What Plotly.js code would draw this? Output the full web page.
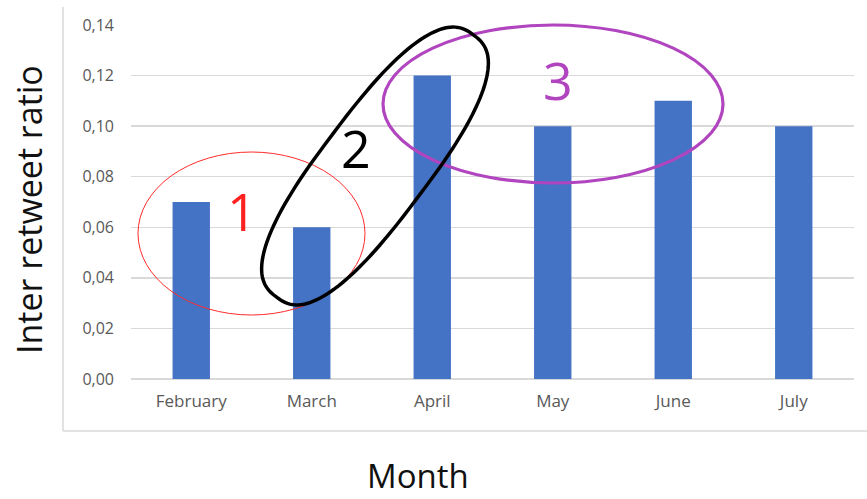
<!DOCTYPE html>
<html>
<head>
<meta charset="utf-8">
<script src="https://cdn.plot.ly/plotly-3.0.1.min.js"></script>
<style>html,body{margin:0;padding:0;background:#fff;}#chart{width:867px;height:499px;}</style>
</head>
<body>
<div id="chart"></div>
<script>
// Data
const months = ["February", "March", "April", "May", "June", "July"];
const ratios = [0.07, 0.06, 0.12, 0.10, 0.11, 0.10];
const yTicks = [0, 0.02, 0.04, 0.06, 0.08, 0.10, 0.12, 0.14];
const groupLabels = ["1", "2", "3"];
const xTitle = "Month";
const yTitle = "Inter retweet ratio";

// Layout geometry (pixels)
const W = 867, H = 499;
const L = 131, R = 854, T = 25, B = 379;
const pw = R - L, ph = B - T;
const px = x => (x - L) / pw;
const py = y => (B - y) / ph;

function ellipsePath(cx, cy, a, b, angDeg, n) {
  const th = angDeg * Math.PI / 180;
  const pts = [];
  const N = 160;
  for (let i = 0; i < N; i++) {
    const t = 2 * Math.PI * i / N;
    const c = Math.cos(t), s = Math.sin(t);
    const ex = a * Math.sign(c) * Math.pow(Math.abs(c), 2 / n);
    const ey = b * Math.sign(s) * Math.pow(Math.abs(s), 2 / n);
    const X = cx + ex * Math.cos(th) + ey * Math.sin(th);
    const Y = cy - ex * Math.sin(th) + ey * Math.cos(th);
    pts.push(px(X).toFixed(5) + "," + py(Y).toFixed(5));
  }
  return "M" + pts.join("L") + "Z";
}

const trace = {
  type: "bar",
  x: months,
  y: ratios,
  marker: {color: "#4472C4"},
  hoverinfo: "x+y"
};

const ann = (text, x, y, size, color, extra) => Object.assign({
  text: text, xref: "paper", yref: "paper", x: px(x), y: py(y),
  xanchor: "center", yanchor: "middle", showarrow: false,
  font: {size: size, color: color}
}, extra || {});

const layout = {
  width: W, height: H,
  margin: {l: L, r: W - R, t: T, b: H - B},
  paper_bgcolor: "#ffffff",
  plot_bgcolor: "#ffffff",
  separators: ",.",
  bargap: 0.69,
  showlegend: false,
  font: {family: "Open Sans, sans-serif", color: "#595959", size: 16},
  xaxis: {
    type: "category",
    showgrid: false,
    zeroline: false,
    showline: false,
    ticks: "",
    ticklabelstandoff: 10,
    tickfont: {size: 17, color: "#595959"},
    automargin: false
  },
  yaxis: {
    range: [0, 0.14],
    tickvals: yTicks,
    tickformat: ".2f",
    showgrid: true,
    gridcolor: "#d9d9d9",
    gridwidth: 1.3,
    zeroline: true,
    zerolinecolor: "#d9d9d9",
    zerolinewidth: 1.3,
    showline: false,
    ticks: "",
    ticklabelstandoff: 16,
    tickfont: {size: 16, color: "#595959"},
    automargin: false
  },
  shapes: [
    // chart frame (left and bottom edges)
    {type: "line", xref: "paper", yref: "paper", x0: px(63), x1: px(63), y0: py(7), y1: py(431),
     line: {color: "#d9d9d9", width: 1.5}},
    {type: "line", xref: "paper", yref: "paper", x0: px(63), x1: px(867), y0: py(431), y1: py(431),
     line: {color: "#d9d9d9", width: 1.5}},
    // red ellipse (group 1)
    {type: "circle", xref: "paper", yref: "paper", x0: px(138), x1: px(365), y0: py(315), y1: py(152),
     line: {color: "#FF2A2A", width: 1}},
    // purple ellipse (group 3)
    {type: "circle", xref: "paper", yref: "paper", x0: px(383), x1: px(723), y0: py(183), y1: py(25),
     line: {color: "#B145BF", width: 3.2}},
    // black rotated loop (group 2)
    {type: "path", xref: "paper", yref: "paper", path: ellipsePath(375, 166, 164, 53, 53, 2.6),
     line: {color: "#000000", width: 3.5}}
  ],
  annotations: [
    ann(groupLabels[0], 242, 210, 52, "#FF2020"),
    ann(groupLabels[1], 356, 147, 52, "#000000"),
    ann(groupLabels[2], 558, 80, 52, "#B145BF"),
    ann(xTitle, 418, 476, 33, "#111111"),
    ann(yTitle, 29, 210, 34, "#111111", {textangle: -90})
  ]
};

Plotly.newPlot("chart", [trace], layout, {displayModeBar: false, staticPlot: true});
</script>
</body>
</html>
